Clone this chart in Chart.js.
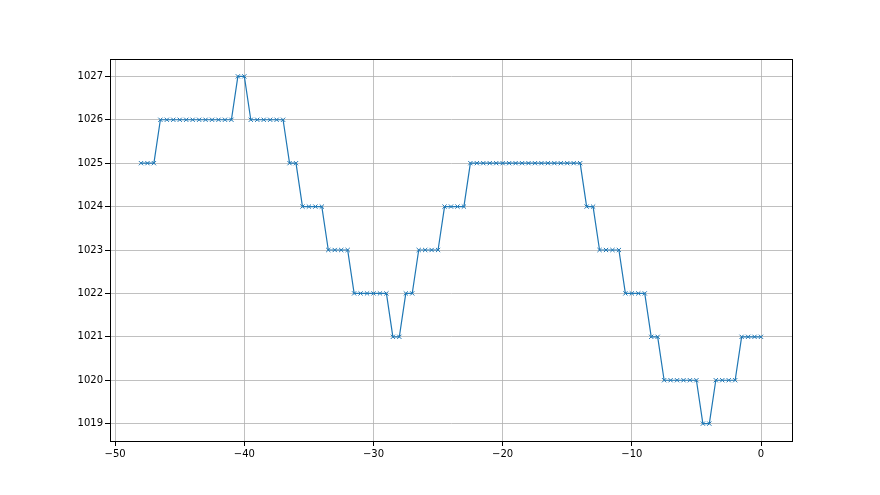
<!DOCTYPE html>
<html>
<head>
<meta charset="utf-8">
<script src="https://cdn.jsdelivr.net/npm/chart.js@4"></script>
<style>
html,body{margin:0;padding:0;background:#fff;}
#wrap{width:880px;height:495px;position:relative;}
</style>
</head>
<body>
<div id="wrap"><canvas id="c" width="880" height="495"></canvas></div>
<script>
const xValues = [
  -48,-47.5,-47,-46.5,-46,-45.5,-45,-44.5,-44,-43.5,-43,-42.5,-42,-41.5,-41,-40.5,-40,
  -39.5,-39,-38.5,-38,-37.5,-37,-36.5,-36,-35.5,-35,-34.5,-34,-33.5,-33,-32.5,-32,
  -31.5,-31,-30.5,-30,-29.5,-29,-28.5,-28,-27.5,-27,-26.5,-26,-25.5,-25,-24.5,-24,
  -23.5,-23,-22.5,-22,-21.5,-21,-20.5,-20,-19.5,-19,-18.5,-18,-17.5,-17,-16.5,-16,
  -15.5,-15,-14.5,-14,-13.5,-13,-12.5,-12,-11.5,-11,-10.5,-10,-9.5,-9,-8.5,-8,
  -7.5,-7,-6.5,-6,-5.5,-5,-4.5,-4,-3.5,-3,-2.5,-2,-1.5,-1,-0.5,0
];
const pressure = [
  1025,1025,1025,
  1026,1026,1026,1026,1026,1026,1026,1026,1026,1026,1026,1026,
  1027,1027,
  1026,1026,1026,1026,1026,1026,
  1025,1025,
  1024,1024,1024,1024,
  1023,1023,1023,1023,
  1022,1022,1022,1022,1022,1022,
  1021,1021,
  1022,1022,
  1023,1023,1023,1023,
  1024,1024,1024,1024,
  1025,1025,1025,1025,1025,1025,1025,1025,1025,1025,1025,1025,1025,1025,1025,1025,1025,1025,
  1024,1024,
  1023,1023,1023,1023,
  1022,1022,1022,1022,
  1021,1021,
  1020,1020,1020,1020,1020,1020,
  1019,1019,
  1020,1020,1020,1020,
  1021,1021,1021,1021
];
const xTicks = [-50,-40,-30,-20,-10,0];
const yTicks = [1019,1020,1021,1022,1023,1024,1025,1026,1027];

const points = xValues.map((x,i)=>({x:x,y:pressure[i]}));
const fmt = v => (v<0 ? '\u2212'+Math.abs(v) : String(v));

const frame = {
  id:'frame',
  afterDraw(chart){
    const a = chart.chartArea, ctx = chart.ctx;
    ctx.save();
    ctx.strokeStyle = '#000';
    ctx.lineWidth = 1;
    ctx.strokeRect(Math.round(a.left)+0.5, Math.round(a.top)+0.5, Math.round(a.right-a.left), Math.round(a.bottom-a.top));
    ctx.restore();
  }
};

new Chart(document.getElementById('c'), {
  type:'scatter',
  data:{datasets:[{
    data:points,
    showLine:true,
    borderColor:'#1f77b4',
    backgroundColor:'#1f77b4',
    borderWidth:1.2,
    pointStyle:'crossRot',
    pointRadius:3,
    pointHoverRadius:3,
    pointBorderWidth:1,
    pointBorderColor:'#1f77b4'
  }]},
  options:{
    responsive:false,
    animation:false,
    events:[],
    layout:{padding:{top:59,right:88,left:0,bottom:0}},
    plugins:{legend:{display:false},tooltip:{enabled:false}},
    scales:{
      x:{
        type:'linear',
        min:-50.4, max:2.4,
        afterBuildTicks(s){ s.ticks = xTicks.map(v=>({value:v})); },
        afterFit(s){ s.height = 54; },
        grid:{color:'#b0b0b0', lineWidth:0.8, tickLength:5, tickColor:'#000', tickWidth:1},
        border:{display:true,color:'#000',width:1},
        ticks:{color:'#000', padding:2, maxRotation:0, autoSkip:false,
          font:{family:'DejaVu Sans', size:10}, callback:v=>fmt(v)}
      },
      y:{
        type:'linear',
        min:1018.6, max:1027.4,
        afterBuildTicks(s){ s.ticks = yTicks.map(v=>({value:v})); },
        afterFit(s){ s.width = 110; },
        grid:{color:'#b0b0b0', lineWidth:0.8, tickLength:5, tickColor:'#000', tickWidth:1},
        border:{display:true,color:'#000',width:1},
        ticks:{color:'#000', padding:2, autoSkip:false,
          font:{family:'DejaVu Sans', size:10}, callback:v=>String(v)}
      }
    }
  },
  plugins:[frame]
});
</script>
</body>
</html>
